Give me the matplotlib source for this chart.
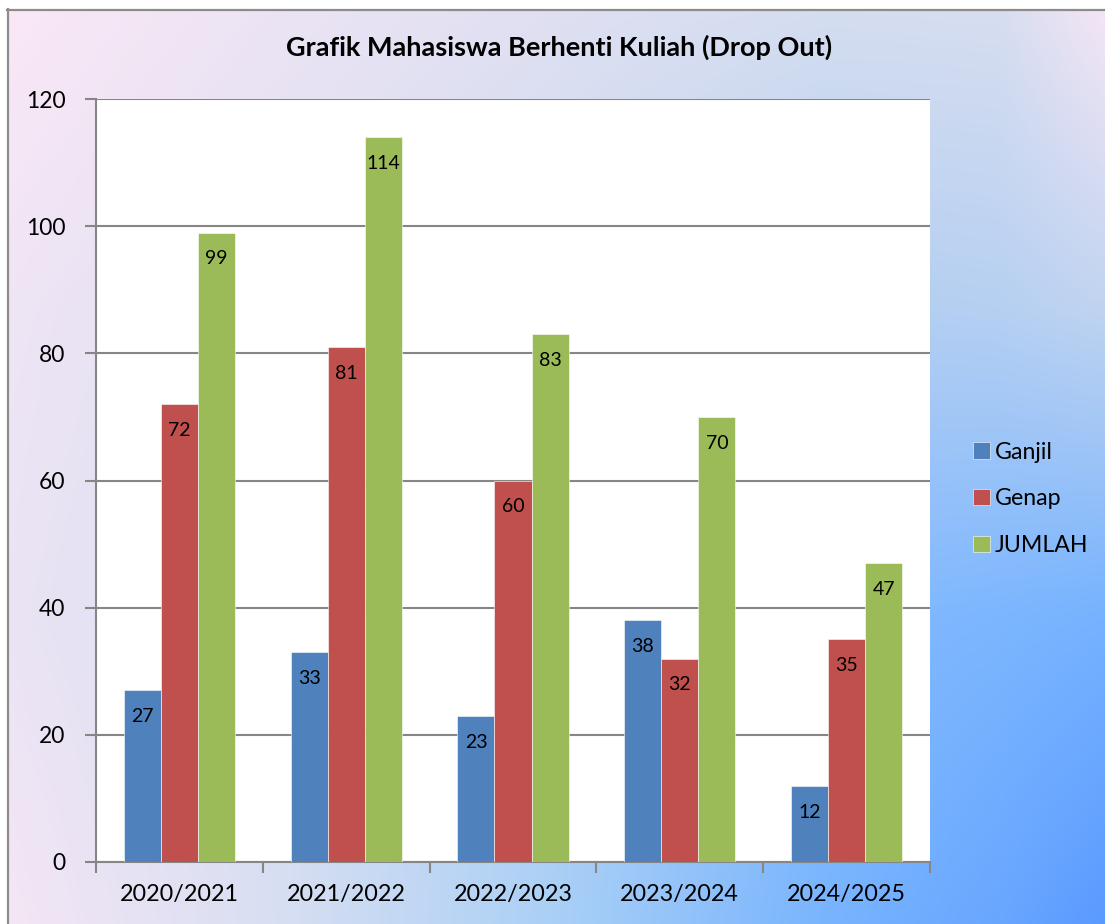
import numpy as np
import matplotlib.pyplot as plt
from matplotlib.colors import to_rgb

# data
tahun = ['2020/2021', '2021/2022', '2022/2023', '2023/2024', '2024/2025']
ganjil = [27, 33, 23, 38, 12]
genap = [72, 81, 60, 32, 35]
jumlah = [99, 114, 83, 70, 47]

plt.rcParams['font.family'] = ['Lato', 'DejaVu Sans']

W, H = 1105, 924
fig = plt.figure(figsize=(W / 100, H / 100), dpi=100, facecolor='white')

# background gradient (pink -> blue toward bottom right)
gx = [0, 276, 552, 828, 1000, 1105]
gy = [0, 308, 616, 924]
gc = [['#fbe8f6', '#ece4f4', '#e0e0f2', '#d6def0', '#d8def0', '#f6e6f5'],
      ['#efe5f5', '#e0e0f2', '#cedcf0', '#b2cef2', '#b6d0f2', '#c0d4f0'],
      ['#ebe4f4', '#d8def2', '#b2d0f4', '#84baff', '#7cb6ff', '#76b2ff'],
      ['#f5e6f5', '#d8dff2', '#aad0f6', '#78b4fe', '#68a6ff', '#5a9aff']]
arr = np.array([[to_rgb(c) for c in row] for row in gc])
xs = np.arange(W)
ys = np.arange(H)
tmp = np.empty((len(gy), W, 3))
for i in range(len(gy)):
    for k in range(3):
        tmp[i, :, k] = np.interp(xs, gx, arr[i, :, k])
fy = np.interp(ys, gy, np.arange(len(gy)))
i0 = np.clip(np.floor(fy).astype(int), 0, len(gy) - 2)
t = (fy - i0)[:, None, None]
img = tmp[i0] * (1 - t) + tmp[i0 + 1] * t
img[:9, :] = 1.0
img[:, :7] = 1.0

bg = fig.add_axes([0, 0, 1, 1])
bg.imshow(img, extent=(0, W, H, 0), aspect='auto', interpolation='bilinear')
bg.plot([7.5, 7.5], [9, H], color='#8c8c8c', lw=1.6)
bg.plot([7, W], [9.5, 9.5], color='#8c8c8c', lw=1.6)
bg.set_xlim(0, W)
bg.set_ylim(H, 0)
bg.axis('off')

# main chart
ax = fig.add_axes([96 / W, 1 - 862 / H, (930 - 96) / W, (862 - 99) / H])
ax.set_facecolor('white')

x = np.arange(len(tahun))
lebar = 0.222
seri = [('Ganjil', ganjil, '#4f81bd', -lebar),
        ('Genap', genap, '#c0504d', 0),
        ('JUMLAH', jumlah, '#9bbb59', lebar)]

for nama, nilai, warna, geser in seri:
    ax.bar(x + geser, nilai, width=lebar, color=warna, label=nama,
           edgecolor='white', linewidth=0.4, zorder=3)
    for xi, v in zip(x + geser, nilai):
        ax.annotate(str(v), (xi, v), xytext=(0, -19), textcoords='offset points',
                    ha='center', va='center', fontsize=14, color='black', zorder=4)

ax.set_xlim(-0.5, len(tahun) - 0.5)
ax.set_ylim(0, 120)
ax.set_yticks(range(0, 121, 20))
ax.yaxis.grid(True, color='#868686', linewidth=1.5, zorder=1)
ax.set_axisbelow(True)

ax.set_xticks(np.arange(-0.5, len(tahun)), labels=[''] * (len(tahun) + 1))
ax.set_xticks(x, labels=tahun, minor=True)
ax.tick_params(axis='x', which='major', length=8, width=1.5, color='#868686', direction='out')
ax.tick_params(axis='x', which='minor', length=0, pad=16, labelsize=16.8)
ax.tick_params(axis='y', length=8, width=1.5, color='#868686', direction='out',
               pad=14, labelsize=16.5)

for s in ['top', 'right']:
    ax.spines[s].set_visible(False)
for s in ['left', 'bottom']:
    ax.spines[s].set_color('#868686')
    ax.spines[s].set_linewidth(1.5)

fig.text(559 / W, 1 - 47 / H, 'Grafik Mahasiswa Berhenti Kuliah (Drop Out)',
         ha='center', va='center', fontsize=19.5, fontweight='bold')

fig.legend(loc='center left', bbox_to_anchor=(964 / W, 1 - 499 / H), frameon=False,
           fontsize=16.7, handlelength=0.7, handleheight=0.7, handletextpad=0.22,
           labelspacing=1.12, borderaxespad=0)

fig.savefig('out.png', dpi=100)
